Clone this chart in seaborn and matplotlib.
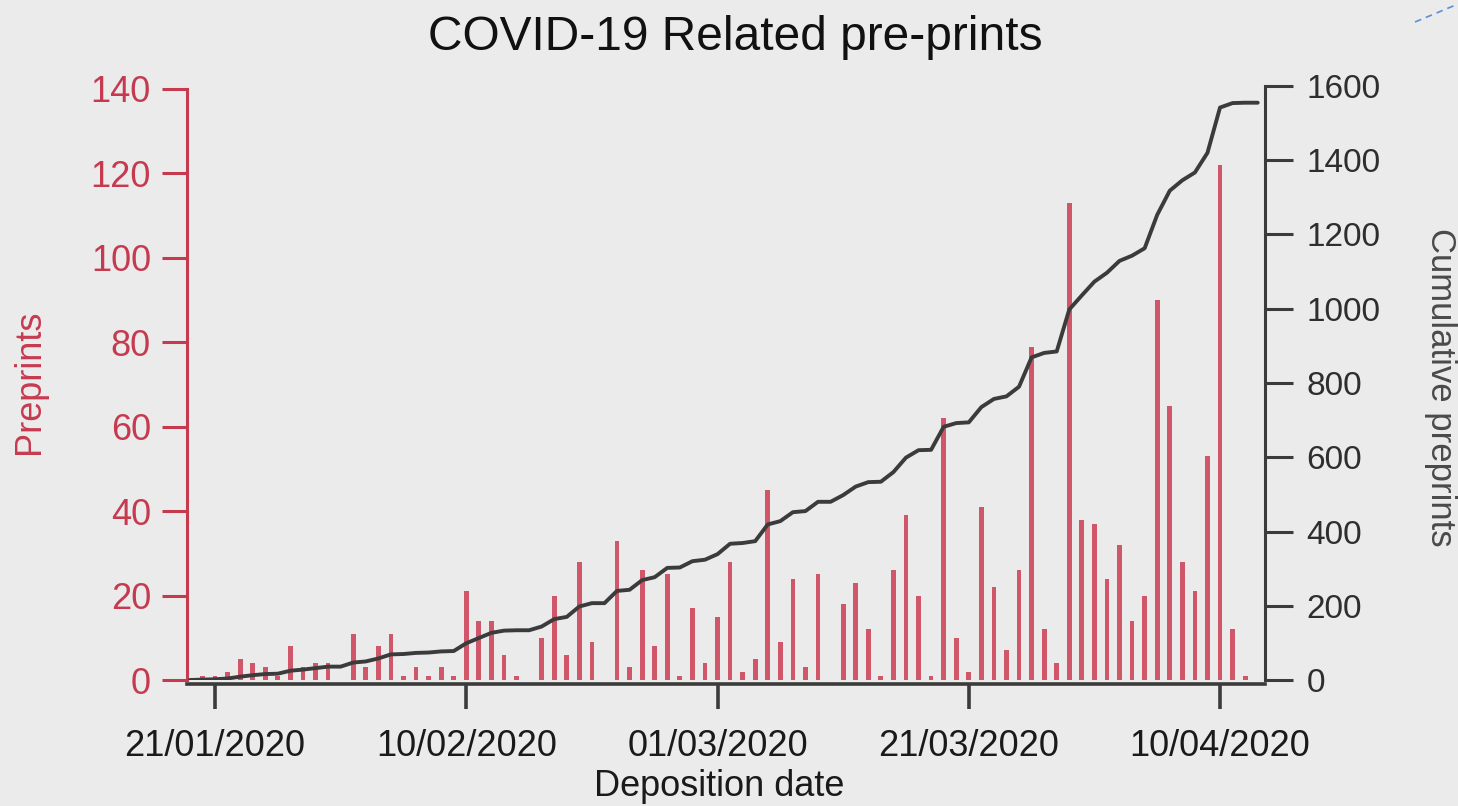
import numpy as np
import pandas as pd
import seaborn as sns
import matplotlib.pyplot as plt
from matplotlib.lines import Line2D

# daily deposited COVID-19 preprints, 19/01/2020 .. 13/04/2020
jan = [0, 1, 1, 2, 5, 4, 3, 1, 8, 3, 4, 4, 0]
feb = [11, 3, 8, 11, 1, 3, 1, 3, 1,
       21, 14, 14, 6, 1, 0, 10, 20, 6, 28, 9, 0, 33, 3, 26, 8, 25, 1, 17, 4]
mar = [15, 28, 2, 5, 45, 9, 24, 3, 25, 0, 18, 23, 12, 1, 26, 39, 20, 1, 62, 10,
       2, 41, 22, 7, 26, 79, 12, 4, 113, 38, 37]
apr = [24, 32, 14, 20, 90, 65, 28, 21, 53, 122, 12, 1, 0]

daily = np.array(jan + feb + mar + apr)
dates = pd.date_range('2020-01-19', periods=len(daily), freq='D')
df = pd.DataFrame({'date': dates, 'daily': daily})
df['day'] = (df['date'] - dates[0]).dt.days
df['cumulative'] = df['daily'].cumsum()

tick_dates = ['21/01/2020', '10/02/2020', '01/03/2020', '21/03/2020', '10/04/2020']
left_ticks = [0, 20, 40, 60, 80, 100, 120, 140]
right_ticks = [0, 200, 400, 600, 800, 1000, 1200, 1400, 1600]

red = '#c63a4f'
bar_red = '#d0566a'
grey = '#3b3b3b'

sns.set_style('white')
plt.rcParams['font.family'] = ['Liberation Sans', 'DejaVu Sans']

fig = plt.figure(figsize=(14.58, 8.06), dpi=100)
fig.patch.set_facecolor('#ebebeb')
ax = fig.add_axes([187 / 1458, 126 / 806, (1265 - 187) / 1458, 594 / 806])
ax.set_facecolor('none')

sns.barplot(data=df, x='day', y='daily', native_scale=True, width=0.38,
            color=bar_red, saturation=1, errorbar=None, linewidth=0, ax=ax)

ax2 = ax.twinx()
sns.lineplot(data=df, x='day', y='cumulative', color=grey, linewidth=2.8, ax=ax2)

ax.set_xlim(-0.23, 85.58)
ax.set_ylim(0, 140 * 594 / 591)
ax2.set_ylim(0, 1600)

tick_pos = [(pd.to_datetime(t, dayfirst=True) - dates[0]).days for t in tick_dates]
ax.set_xticks(tick_pos)
ax.set_xticklabels(tick_dates)
ax.set_yticks(left_ticks)
ax.set_yticklabels([str(v) for v in left_ticks])
ax2.set_yticks(right_ticks)
ax2.set_yticklabels([str(v) for v in right_ticks])

for a in (ax, ax2):
    a.spines['top'].set_visible(False)
ax.spines['right'].set_visible(False)
ax2.spines['left'].set_visible(False)
ax2.spines['bottom'].set_visible(False)

ax.spines['left'].set_color(red)
ax.spines['left'].set_linewidth(2.2)
ax.spines['left'].set_bounds(0, 140)
ax.spines['bottom'].set_color(grey)
ax.spines['bottom'].set_linewidth(2.6)
ax.spines['bottom'].set_position(('outward', 3))
ax2.spines['right'].set_color(grey)
ax2.spines['right'].set_linewidth(2.2)
ax2.spines['right'].set_bounds(0, 1600)

ax.tick_params(axis='y', colors=red, labelsize=26, length=18, width=2.2,
               direction='out', pad=8, left=True)
ax.tick_params(axis='x', colors=grey, labelcolor='#1a1a1a', labelsize=26,
               length=18, width=2.6, direction='out', pad=14, bottom=True)
ax2.tick_params(axis='y', colors=grey, labelcolor='#2e2e2e', labelsize=24,
                length=20, width=2.2, direction='out', pad=10, right=True)

ax.set_xlabel('')
ax.set_ylabel('')
ax2.set_ylabel('')
fig.text(719 / 1458, 1 - 786 / 806, 'Deposition date', fontsize=26,
         color='#1a1a1a', ha='center', va='center')
fig.text(30 / 1458, 1 - 382 / 806, 'Preprints', rotation=90, fontsize=26,
         color=red, ha='center', va='center')
fig.text(1440 / 1458, 1 - 387 / 806, 'Cumulative preprints', rotation=-90,
         fontsize=25, color='#4a4a4a', ha='center', va='center')
fig.text(735 / 1458, 1 - 38 / 806, 'COVID-19 Related pre-prints', fontsize=34.5,
         color='#111111', ha='center', va='center')

fig.add_artist(Line2D([1415 / 1458, 1.0], [1 - 22 / 806, 1 - 4 / 806],
                      transform=fig.transFigure, color='#5a8fd8',
                      linestyle=(0, (4, 3)), linewidth=1.2))

fig.savefig('out.png', dpi=100, facecolor=fig.get_facecolor())
